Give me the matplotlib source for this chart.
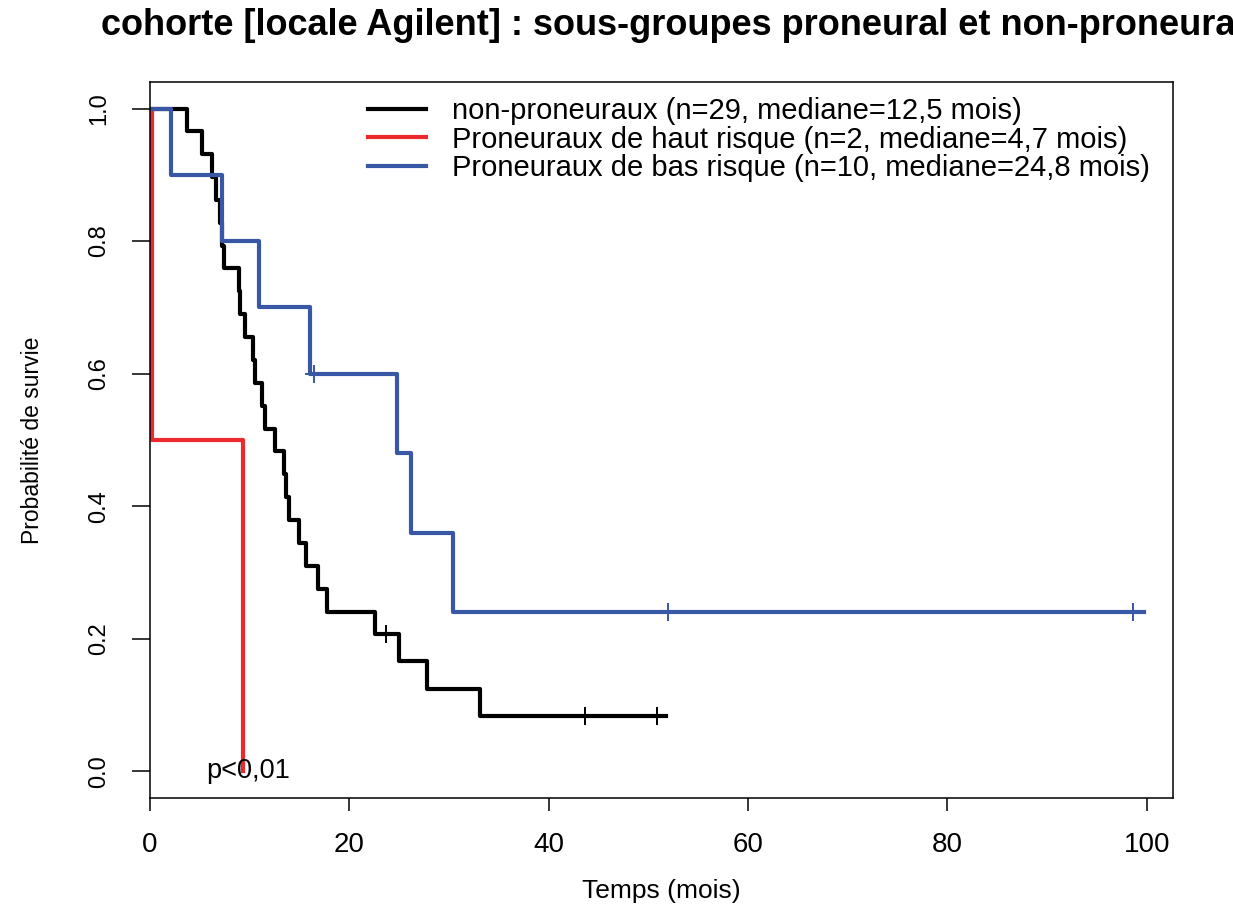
import matplotlib
matplotlib.use("Agg")
import matplotlib.pyplot as plt

plt.rcParams['font.family'] = ['Liberation Sans', 'DejaVu Sans']

# survival curves (time in months, survival probability)
non_pro_t = [0, 3.7, 5.2, 6.25, 6.6, 7.0, 7.2, 7.4, 8.9, 9.05, 9.5, 10.3, 10.5, 11.2,
             11.5, 12.5, 13.4, 13.6, 13.9, 14.9, 15.65, 16.8, 17.8, 22.6, 25.0, 27.8,
             33.1, 51.8]
non_pro_s = [1.0, 0.966, 0.931, 0.897, 0.862, 0.828, 0.793, 0.759, 0.724, 0.690, 0.655,
             0.621, 0.586, 0.552, 0.517, 0.483, 0.448, 0.414, 0.379, 0.345, 0.310, 0.276,
             0.241, 0.207, 0.166, 0.124, 0.083, 0.083]
non_pro_cens_t = [23.7, 43.6, 50.9]
non_pro_cens_s = [0.207, 0.083, 0.083]

haut_t = [0, 0.15, 9.3, 9.3]
haut_s = [1.0, 0.5, 0.0, 0.0]

bas_t = [0, 2.1, 7.2, 10.9, 16.05, 24.8, 26.2, 30.4, 99.7]
bas_s = [1.0, 0.9, 0.8, 0.7, 0.6, 0.48, 0.36, 0.24, 0.24]
bas_cens_t = [16.45, 52.0, 98.6]
bas_cens_s = [0.6, 0.24, 0.24]

labels = ["non-proneuraux (n=29, mediane=12,5 mois)",
          "Proneuraux de haut risque (n=2, mediane=4,7 mois)",
          "Proneuraux de bas risque (n=10, mediane=24,8 mois)"]
colors = ["black", "#ec2a2e", "#3858a6"]
xticks = [0, 20, 40, 60, 80, 100]
yticks = [0.0, 0.2, 0.4, 0.6, 0.8, 1.0]

fig = plt.figure(figsize=(12.33, 9.09), dpi=100)
ax = fig.add_axes([0.1217, 0.1221, 0.8294, 0.7877])

lw = 3.0
ax.step(non_pro_t, non_pro_s, where='post', color=colors[0], lw=lw, label=labels[0])
ax.step(haut_t, haut_s, where='post', color=colors[1], lw=lw, label=labels[1])
ax.step(bas_t, bas_s, where='post', color=colors[2], lw=lw, label=labels[2])
ax.plot(non_pro_cens_t, non_pro_cens_s, ls='none', marker='+', ms=13, mew=1.4, color=colors[0])
ax.plot(bas_cens_t, bas_cens_s, ls='none', marker='+', ms=13, mew=1.4, color=colors[2])

ax.text(9.8, 0.0, "p<0,01", ha='center', va='center', fontsize=19.5)

ax.set_xlim(0, 102.6)
ax.set_ylim(-0.04, 1.04)
ax.set_xticks(xticks)
ax.set_xticklabels([str(v) for v in xticks])
ax.set_yticks(yticks)
ax.set_yticklabels([f"{v:.1f}" for v in yticks])
ax.tick_params(axis='x', length=9.4, width=1.1, pad=15, labelsize=20)
ax.tick_params(axis='y', length=12.7, width=1.1, pad=16, labelsize=17, labelrotation=90)
for lbl in ax.get_yticklabels():
    lbl.set_va('center')
for sp in ax.spines.values():
    sp.set_linewidth(1.1)

ax.set_xlabel("Temps (mois)", fontsize=19, labelpad=15)
ax.set_ylabel("Probabilité de survie", fontsize=16.5, labelpad=32)

ax.legend(loc='upper left', bbox_to_anchor=(0.2132, 0.979), frameon=False,
          fontsize=21, handlelength=2.0, handletextpad=0.88, labelspacing=0.02,
          borderpad=0, borderaxespad=0)

fig.text(101 / 1233, 1 - 35 / 909,
         "cohorte [locale Agilent] : sous-groupes proneural et non-proneural",
         ha='left', va='baseline', fontsize=26, fontweight='bold')

fig.savefig('out.png', dpi=100)
